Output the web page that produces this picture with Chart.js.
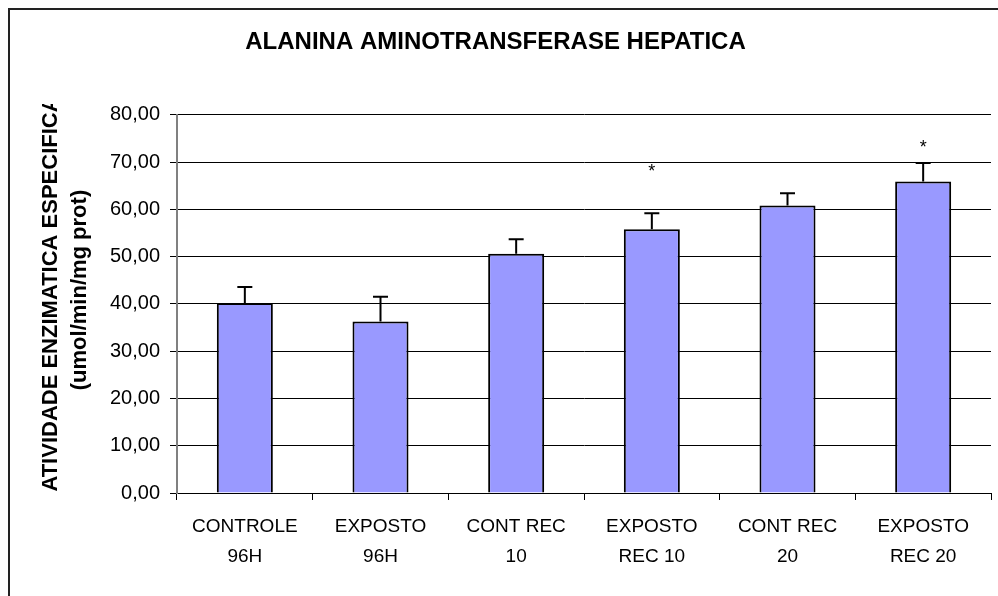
<!DOCTYPE html>
<html>
<head>
<meta charset="utf-8">
<script src="https://cdn.jsdelivr.net/npm/chart.js@4/dist/chart.umd.min.js"></script>
<style>
  html, body { margin: 0; padding: 0; background: #fff; }
  #wrap { width: 998px; height: 596px; }
</style>
</head>
<body>
<div id="wrap"><canvas id="chart" width="998" height="596"></canvas></div>
<script>
// values
const categories = [
  ['CONTROLE', '96H'],
  ['EXPOSTO', '96H'],
  ['CONT REC', '10'],
  ['EXPOSTO', 'REC 10'],
  ['CONT REC', '20'],
  ['EXPOSTO', 'REC 20']
];
const means = [40.2, 36.3, 50.6, 55.8, 60.8, 65.9];
const errors = [3.4, 5.2, 3.1, 3.4, 2.6, 3.9];
const stars = [null, null, null, 68.6, null, 73.6];
const yMin = 0, yMax = 80, yStep = 10;

const chartTitle = 'ALANINA AMINOTRANSFERASE HEPATICA';
const yTitle = ['ATIVIDADE ENZIMATICA ESPECIFICA', '(umol/min/mg prot)'];

const FONT = "'Liberation Sans', Arial, sans-serif";

// white page + the outer frame
const framePlugin = {
  id: 'frame',
  beforeDraw(chart) {
    const ctx = chart.ctx;
    ctx.save();
    ctx.fillStyle = '#fff';
    ctx.fillRect(0, 0, chart.width, chart.height);
    ctx.strokeStyle = '#222';
    ctx.lineWidth = 2;
    ctx.strokeRect(9, 9, 1200, 1200);
    ctx.restore();
  }
};

// upper error bars and the asterisks
const errorPlugin = {
  id: 'errorBars',
  afterDatasetsDraw(chart) {
    const ctx = chart.ctx;
    const y = chart.scales.y;
    const meta = chart.getDatasetMeta(0);
    ctx.save();
    ctx.strokeStyle = '#000';
    ctx.lineWidth = 2;
    meta.data.forEach((bar, i) => {
      const top = y.getPixelForValue(means[i] + errors[i]);
      ctx.beginPath();
      ctx.moveTo(bar.x, bar.y);
      ctx.lineTo(bar.x, top);
      ctx.moveTo(bar.x - 7.5, top);
      ctx.lineTo(bar.x + 7.5, top);
      ctx.stroke();
      if (stars[i] != null) {
        ctx.fillStyle = '#000';
        ctx.font = '18px ' + FONT;
        ctx.textAlign = 'center';
        ctx.textBaseline = 'alphabetic';
        ctx.fillText('*', bar.x, y.getPixelForValue(stars[i]) + 8);
      }
    });
    ctx.restore();
  }
};

// two-line vertical axis title, cut at the top like the original
const yTitlePlugin = {
  id: 'yTitle',
  afterDraw(chart) {
    const ctx = chart.ctx;
    ctx.save();
    ctx.beginPath();
    ctx.rect(0, 104, chart.width, chart.height);
    ctx.clip();
    ctx.fillStyle = '#000';
    ctx.font = 'bold 22px ' + FONT;
    ctx.textAlign = 'center';
    ctx.textBaseline = 'middle';
    [[51, 294], [80, 290]].forEach(([cx, cy], i) => {
      ctx.save();
      ctx.translate(cx, cy);
      ctx.rotate(-Math.PI / 2);
      ctx.fillText(yTitle[i], 0, 0);
      ctx.restore();
    });
    ctx.restore();
  }
};

new Chart(document.getElementById('chart'), {
  type: 'bar',
  data: {
    labels: categories,
    datasets: [{
      data: means,
      backgroundColor: '#9999FF',
      borderColor: '#000',
      borderWidth: 2,
      categoryPercentage: 1,
      barPercentage: 0.413
    }]
  },
  options: {
    responsive: false,
    animation: false,
    layout: { padding: { left: 0, right: 7, top: 0, bottom: 0 } },
    plugins: {
      legend: { display: false },
      tooltip: { enabled: false },
      title: {
        display: true,
        text: chartTitle,
        color: '#000',
        font: { family: FONT, size: 24, weight: 'bold' },
        padding: { top: 28, bottom: 58 }
      }
    },
    scales: {
      x: {
        offset: true,
        grid: { drawOnChartArea: false, color: '#000', tickLength: 7, offset: true },
        border: { color: '#000', width: 1 },
        ticks: {
          color: '#000',
          padding: 12,
          maxRotation: 0,
          autoSkip: false,
          font: { family: FONT, size: 19, lineHeight: 1.58 }
        },
        afterFit(s) { s.height = 103; }
      },
      y: {
        min: yMin,
        max: yMax,
        grid: { color: '#000', lineWidth: 1, tickLength: 7, tickColor: '#000' },
        border: { color: '#808080', width: 2 },
        ticks: {
          stepSize: yStep,
          color: '#000',
          padding: 10,
          font: { family: FONT, size: 20 },
          callback: v => v.toFixed(2).replace('.', ',')
        },
        afterFit(s) { s.width = 177; }
      }
    }
  },
  plugins: [framePlugin, errorPlugin, yTitlePlugin]
});
</script>
</body>
</html>
